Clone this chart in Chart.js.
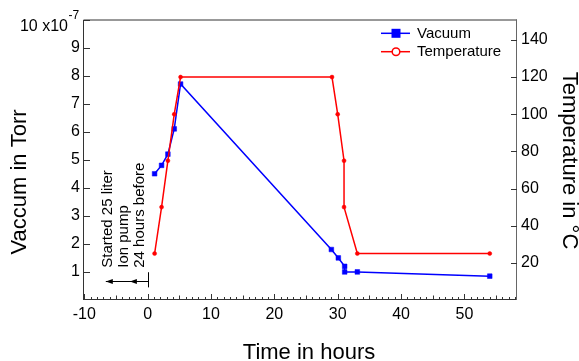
<!DOCTYPE html>
<html><head><meta charset="utf-8">
<script src="https://cdn.jsdelivr.net/npm/chart.js@4.4.0/dist/chart.umd.min.js"></script>
<style>html,body{margin:0;padding:0;background:#fff;}#wrap{width:579px;height:361px;}</style>
</head><body><div id="wrap"><canvas id="c" width="579" height="361"></canvas></div>
<script>
// ---- data ----
const timeVacuum = [1.1, 2.2, 3.2, 4.2, 5.2, 29.0, 30.1, 31.1, 31.1, 33.1, 54.0];   // hours
const vacuum = [4.5, 4.8, 5.2, 6.1, 7.7, 1.8, 1.5, 1.2, 1.0, 1.0, 0.85];            // x10^-7 Torr
const timeTemperature = [1.1, 2.2, 3.2, 4.2, 5.2, 29.1, 30.0, 31.0, 31.0, 33.1, 54.0];
const temperature = [25, 50, 75, 100, 120, 120, 100, 75, 50, 25, 25];                // °C
const xTicks = [-10, 0, 10, 20, 30, 40, 50];
const vacuumTicks = [1, 2, 3, 4, 5, 6, 7, 8, 9, 10];
const temperatureTicks = [20, 40, 60, 80, 100, 120, 140];
const seriesNames = ['Vacuum', 'Temperature'];
const xTitle = 'Time in hours';
const vacuumTitle = 'Vaccum in Torr';
const temperatureTitle = 'Temperature in °C';
const topLabelMain = '10 x10';
const topLabelExp = '-7';
const noteLines = ['Started 25 liter', 'Ion pump', '24 hours before'];

// ---- styling / annotation placement ----
const FONT = '"Liberation Sans", Arial, Helvetica, sans-serif';
const note = { lineX: [-5.7, -3.1, -0.5], startY: 1.15, arrowY: 0.66, arrowFrom: -6.6, arrowTo: 0,
               heads: [-6.6, -2.8], barLow: 0.45, barHigh: 0.99 };

Chart.defaults.font.family = FONT;
Chart.defaults.color = '#000';

function pts(xs, ys) { return xs.map((x, i) => ({ x: x, y: ys[i] })); }

const decor = {
  id: 'decor',
  afterDraw(chart) {
    const ctx = chart.ctx, a = chart.chartArea;
    const sx = chart.scales.x, sv = chart.scales.yV, st = chart.scales.yT;
    ctx.save();
    // frame
    ctx.strokeStyle = '#333'; ctx.lineWidth = 1;
    ctx.beginPath();
    ctx.moveTo(a.left + 0.5, a.bottom); ctx.lineTo(a.left + 0.5, a.top + 0.5);
    ctx.lineTo(a.right, a.top + 0.5);
    ctx.moveTo(a.left, a.bottom - 0.5); ctx.lineTo(a.right, a.bottom - 0.5);
    ctx.stroke();
    ctx.strokeStyle = '#666';
    ctx.beginPath(); ctx.moveTo(a.right - 0.5, a.top); ctx.lineTo(a.right - 0.5, a.bottom); ctx.stroke();
    // ticks (inward)
    ctx.strokeStyle = '#333';
    ctx.beginPath();
    vacuumTicks.forEach(v => { const y = Math.round(sv.getPixelForValue(v)) + 0.5; ctx.moveTo(a.left, y); ctx.lineTo(a.left + 7, y); });
    temperatureTicks.forEach(v => { const y = Math.round(st.getPixelForValue(v)) + 0.5; ctx.moveTo(a.right, y); ctx.lineTo(a.right - 6, y); });
    for (let t = Math.ceil(sx.min); t <= sx.max; t++) {
      const x = Math.round(sx.getPixelForValue(t)) + 0.5;
      const len = t % 10 === 0 ? 6 : (t % 5 === 0 ? 4.5 : 3);
      ctx.moveTo(x, a.bottom); ctx.lineTo(x, a.bottom - len);
    }
    ctx.stroke();
    // top-left exponent label
    ctx.fillStyle = '#000';
    ctx.font = '16px ' + FONT; ctx.textAlign = 'right'; ctx.textBaseline = 'alphabetic';
    ctx.fillText(topLabelMain, 68, 30.5);
    ctx.font = '12px ' + FONT; ctx.textAlign = 'left';
    ctx.fillText(topLabelExp, 68.5, 19);
    // axis titles
    ctx.font = '22px ' + FONT; ctx.textAlign = 'center'; ctx.textBaseline = 'alphabetic';
    ctx.fillText(xTitle, 309, 359);
    ctx.save(); ctx.translate(26, 182); ctx.rotate(-Math.PI / 2); ctx.fillText(vacuumTitle, 0, 0); ctx.restore();
    ctx.save(); ctx.translate(563, 160.5); ctx.rotate(Math.PI / 2); ctx.fillText(temperatureTitle, 0, 0); ctx.restore();
    // annotation
    ctx.font = '15px ' + FONT; ctx.textAlign = 'left';
    const y0 = sv.getPixelForValue(note.startY);
    noteLines.forEach((s, i) => {
      ctx.save(); ctx.translate(sx.getPixelForValue(note.lineX[i]), y0); ctx.rotate(-Math.PI / 2); ctx.fillText(s, 0, 0); ctx.restore();
    });
    const ay = Math.round(sv.getPixelForValue(note.arrowY)) + 0.5;
    const bx = Math.round(sx.getPixelForValue(note.arrowTo)) + 0.5;
    ctx.strokeStyle = '#000'; ctx.lineWidth = 1;
    ctx.beginPath();
    ctx.moveTo(sx.getPixelForValue(note.arrowFrom), ay); ctx.lineTo(bx, ay);
    ctx.moveTo(bx, sv.getPixelForValue(note.barLow)); ctx.lineTo(bx, sv.getPixelForValue(note.barHigh));
    ctx.stroke();
    note.heads.forEach(h => {
      const hx = sx.getPixelForValue(h);
      ctx.beginPath(); ctx.moveTo(hx, ay); ctx.lineTo(hx + 7, ay - 2.5); ctx.lineTo(hx + 7, ay + 2.5); ctx.closePath(); ctx.fill();
    });
    // legend
    const ds = chart.data.datasets;
    const ly = [33.3, 51.7];
    ds.forEach((d, i) => {
      const y = ly[i];
      ctx.strokeStyle = d.borderColor; ctx.lineWidth = 1.5;
      ctx.beginPath(); ctx.moveTo(381, y); ctx.lineTo(410, y); ctx.stroke();
      if (i === 0) { ctx.fillStyle = d.borderColor; ctx.fillRect(391.5, y - 4.5, 9, 9); }
      else { ctx.fillStyle = '#fff'; ctx.beginPath(); ctx.arc(396, y, 3.8, 0, Math.PI * 2); ctx.fill(); ctx.stroke(); }
      ctx.fillStyle = '#000'; ctx.font = '15px ' + FONT; ctx.textAlign = 'left'; ctx.textBaseline = 'middle';
      ctx.fillText(seriesNames[i], 417, y + 0.5);
    });
    ctx.restore();
  }
};

new Chart(document.getElementById('c'), {
  type: 'line',
  data: {
    datasets: [
      { label: seriesNames[0], data: pts(timeVacuum, vacuum), yAxisID: 'yV', order: 1,
        borderColor: '#0000ff', backgroundColor: '#0000ff', borderWidth: 1.5,
        pointStyle: 'rect', pointRadius: 3.3, pointBorderWidth: 0.5, tension: 0 },
      { label: seriesNames[1], data: pts(timeTemperature, temperature), yAxisID: 'yT', order: 0,
        borderColor: '#ff0000', backgroundColor: '#ff0000', borderWidth: 1.5,
        pointStyle: 'circle', pointRadius: 2, pointBorderWidth: 0.5, tension: 0 }
    ]
  },
  options: {
    responsive: false, devicePixelRatio: 1, animation: false,
    layout: { padding: { top: 19.5, left: 0, right: 0, bottom: 0 } },
    plugins: { legend: { display: false }, tooltip: { enabled: false } },
    scales: {
      x: { type: 'linear', min: -10.2, max: 58.3,
           afterBuildTicks: s => { s.ticks = xTicks.map(v => ({ value: v })); },
           afterFit: s => { s.height = 61; },
           grid: { display: false, drawTicks: false }, border: { display: false },
           ticks: { font: { size: 16 }, color: '#000', padding: 5, maxRotation: 0 } },
      yV: { type: 'linear', position: 'left', min: 0, max: 10,
            afterBuildTicks: s => { s.ticks = vacuumTicks.map(v => ({ value: v })); },
            afterFit: s => { s.width = 83; },
            grid: { display: false, drawTicks: false }, border: { display: false },
            ticks: { font: { size: 16 }, color: '#000', padding: 3, callback: v => (v === 10 ? '' : String(v)) } },
      yT: { type: 'linear', position: 'right', min: 0, max: 151,
            afterBuildTicks: s => { s.ticks = temperatureTicks.map(v => ({ value: v })); },
            afterFit: s => { s.width = 62; },
            grid: { display: false, drawTicks: false }, border: { display: false },
            ticks: { font: { size: 16 }, color: '#000', padding: 4 } }
    }
  },
  plugins: [decor]
});
</script></body></html>
